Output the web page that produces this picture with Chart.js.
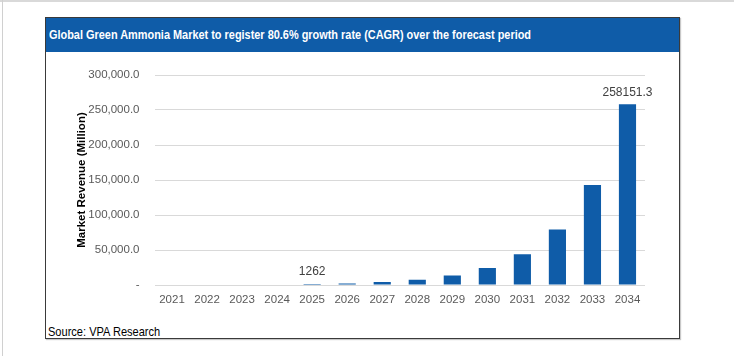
<!DOCTYPE html>
<html>
<head>
<meta charset="utf-8">
<script src="https://cdn.jsdelivr.net/npm/chart.js@4/dist/chart.umd.min.js"></script>
<style>
  html, body { margin: 0; padding: 0; background: #fff; width: 734px; height: 356px; overflow: hidden; position: relative; }
  #topline { position: absolute; left: 0; top: 0; width: 734px; height: 2px; background: #d9d9d9; }
  #leftline { position: absolute; left: 2px; top: 0; width: 1px; height: 356px; background: #d0d0d0; }
  #box { position: absolute; left: 45px; top: 17px; width: 633px; height: 320px; border: 1px solid #3a3a3a; box-shadow: 1px 1px 1px #c8c8c8; background: #fff; }
  #title { position: absolute; left: 0; top: 0; width: 633px; height: 34px; background: #0F5CA8; }
  #title span { position: absolute; left: 3px; top: 0; color: #fff; font-family: "Liberation Sans", Arial, sans-serif; font-weight: bold; font-size: 13px;
           line-height: 34px; white-space: nowrap; transform: scaleX(0.84); transform-origin: 0 50%; }
  #chartwrap { position: absolute; left: 0; top: 35px; width: 633px; height: 262px; }
  #source { position: absolute; left: 2px; top: 306px; font-family: "Liberation Sans", Arial, sans-serif;
            font-size: 13px; color: #000; white-space: nowrap; transform: scaleX(0.85); transform-origin: 0 50%; }
</style>
</head>
<body>
<div id="topline"></div>
<div id="leftline"></div>
<div id="box">
  <div id="title"><span>Global Green Ammonia Market to register 80.6% growth rate (CAGR) over the forecast period</span></div>
  <div id="chartwrap"><canvas id="c" width="633" height="262"></canvas></div>
  <div id="source">Source: VPA Research</div>
</div>
<script>
const years = ['2021','2022','2023','2024','2025','2026','2027','2028','2029','2030','2031','2032','2033','2034'];
const revenue = [null, null, null, null, 1262, 2280, 4120, 7440, 13440, 24270, 43830, 79150, 142940, 258151.3];
const valueLabels = [null, null, null, null, '1262', null, null, null, null, null, null, null, null, '258151.3'];
const yTicks = [0, 50000, 100000, 150000, 200000, 250000, 300000];
const yTitle = 'Market Revenue (Million)';

const FONT = '"Liberation Sans", Arial, sans-serif';

const labelPlugin = {
  id: 'valueLabels',
  afterDatasetsDraw(chart) {
    const ctx = chart.ctx;
    const meta = chart.getDatasetMeta(0);
    ctx.save();
    ctx.font = '12px ' + FONT;
    ctx.fillStyle = '#404040';
    ctx.textAlign = 'center';
    ctx.textBaseline = 'middle';
    valueLabels.forEach((t, i) => {
      if (!t) return;
      const el = meta.data[i];
      ctx.fillText(t, el.x, el.y - 12);
    });
    ctx.restore();
  }
};

new Chart(document.getElementById('c'), {
  type: 'bar',
  data: {
    labels: years,
    datasets: [{
      data: revenue,
      backgroundColor: '#0F5CA8',
      borderWidth: 0,
      categoryPercentage: 1.0,
      barPercentage: 0.49
    }]
  },
  options: {
    responsive: false,
    animation: false,
    layout: { padding: { top: 22, right: 34, bottom: 0, left: 0 } },
    plugins: { legend: { display: false }, tooltip: { enabled: false }, title: { display: false } },
    scales: {
      x: {
        grid: { display: false, drawTicks: false },
        border: { display: false },
        ticks: { color: '#595959', font: { family: FONT, size: 11.5 }, padding: 8, maxRotation: 0, autoSkip: false },
        afterFit(s) { s.height = 30; }
      },
      y: {
        min: 0, max: 300000,
        afterBuildTicks(s) { s.ticks = yTicks.map(v => ({ value: v })); },
        grid: { color: '#D9D9D9', lineWidth: 1, drawTicks: false },
        border: { display: false },
        ticks: {
          color: '#595959', font: { family: FONT, size: 11.5 }, padding: 15,
          callback: (v) => v === 0 ? '-' : Number(v).toLocaleString('en-US', { minimumFractionDigits: 1, maximumFractionDigits: 1 })
        },
        title: { display: true, text: yTitle, color: '#000', font: { family: FONT, size: 11.5, weight: 'bold' }, padding: { top: 29, bottom: 0 } },
        afterFit(s) { s.width = 108.5; }
      }
    }
  },
  plugins: [labelPlugin]
});
</script>
</body>
</html>
